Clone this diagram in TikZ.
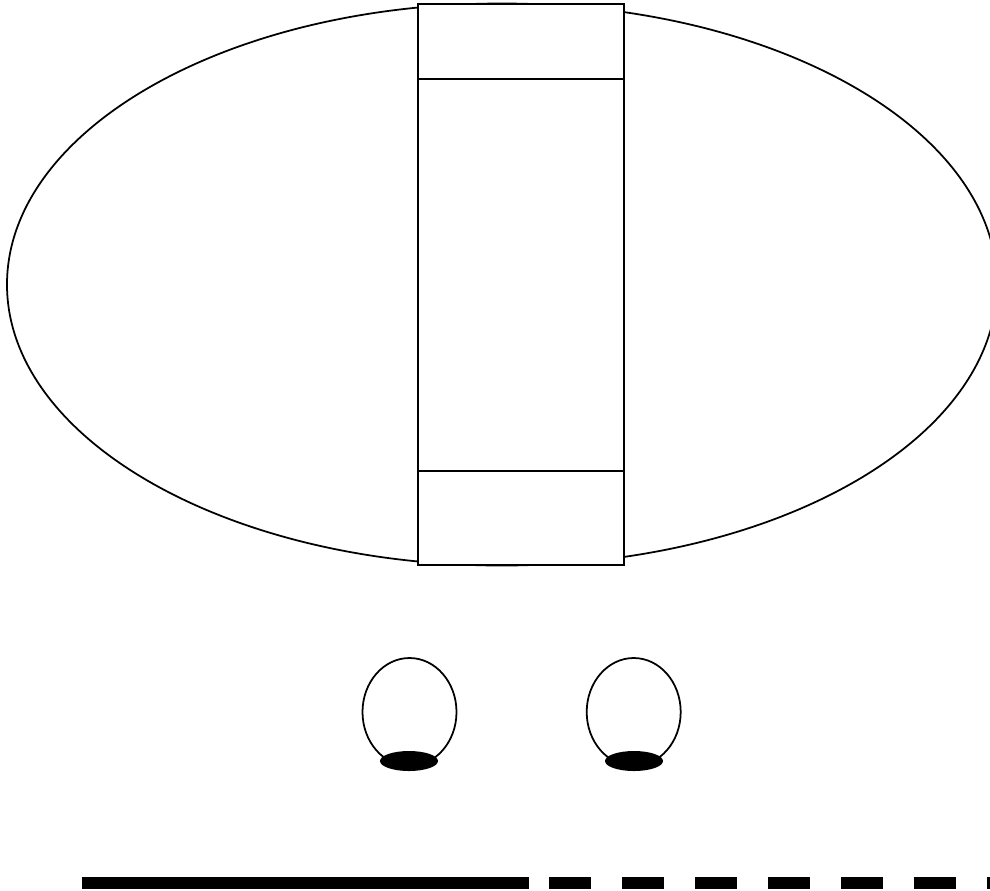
\documentclass[tikz,border=0pt]{standalone}
\begin{document}
\begin{tikzpicture}[x=0.02cm,y=-0.02cm,
  outline/.style={draw=black,line width=1pt},
  thickline/.style={line width=6.6pt,line cap=butt}]
\useasboundingbox (0,0) rectangle (990,890);
\clip (0,0) rectangle (990,890);
% big ellipse
\draw[outline] (502,284.5) ellipse [x radius=495, y radius=281];
% central column
\draw[outline,fill=white] (418,4) rectangle (624,565);
\draw[outline] (418,79) -- (624,79);
\draw[outline] (418,471) -- (624,471);
% small ovals
\draw[outline] (409.5,712) ellipse [x radius=47, y radius=54];
\fill[black] (409,761) ellipse [x radius=29, y radius=10];
\draw[outline] (633.7,712) ellipse [x radius=47, y radius=54];
\fill[black] (634,761) ellipse [x radius=29, y radius=10];
% bottom line
\draw[thickline] (82,883) -- (529,883);
\draw[thickline,dash pattern=on 0.84cm off 0.62cm] (549,883) -- (1000,883);
\end{tikzpicture}
\end{document}
